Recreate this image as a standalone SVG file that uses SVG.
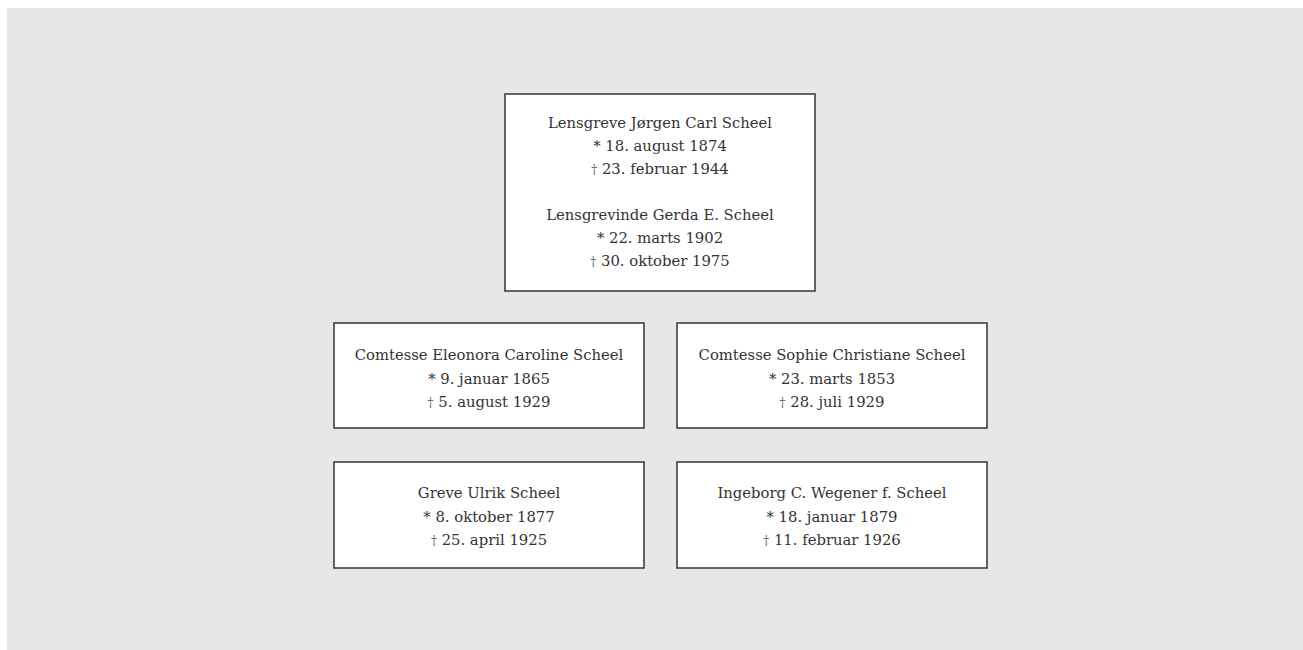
<svg xmlns="http://www.w3.org/2000/svg" width="1303" height="650" viewBox="0 0 1303 650">
<style>
.bg{fill:#e6e7e8}
.box{fill:#fff;stroke:#333;stroke-width:1.5}
text{font-family:"DejaVu Serif","Liberation Serif",serif;font-size:14.8px;fill:#333;text-anchor:middle}
.d{font-size:12px;fill:#666}
</style>
<rect class="bg" x="7" y="8" width="1296" height="642"/>
<g id="connectors"></g>
<g id="node-jorgen-gerda">
<rect class="box" x="505" y="94" width="310" height="197"/>
<text x="660" y="128">Lensgreve Jørgen Carl Scheel</text>
<text x="660" y="151">* 18. august 1874</text>
<text x="660" y="174"><tspan class="d">†</tspan> 23. februar 1944</text>
<text x="660" y="220">Lensgrevinde Gerda E. Scheel</text>
<text x="660" y="243">* 22. marts 1902</text>
<text x="660" y="266"><tspan class="d">†</tspan> 30. oktober 1975</text>
</g>
<g id="node-eleonora">
<rect class="box" x="334" y="323" width="310" height="105"/>
<text x="489" y="360">Comtesse Eleonora Caroline Scheel</text>
<text x="489" y="384">* 9. januar 1865</text>
<text x="489" y="407"><tspan class="d">†</tspan> 5. august 1929</text>
</g>
<g id="node-sophie">
<rect class="box" x="677" y="323" width="310" height="105"/>
<text x="832" y="360">Comtesse Sophie Christiane Scheel</text>
<text x="832" y="384">* 23. marts 1853</text>
<text x="832" y="407"><tspan class="d">†</tspan> 28. juli 1929</text>
</g>
<g id="node-ulrik">
<rect class="box" x="334" y="462" width="310" height="106"/>
<text x="489" y="498">Greve Ulrik Scheel</text>
<text x="489" y="522">* 8. oktober 1877</text>
<text x="489" y="545"><tspan class="d">†</tspan> 25. april 1925</text>
</g>
<g id="node-ingeborg">
<rect class="box" x="677" y="462" width="310" height="106"/>
<text x="832" y="498">Ingeborg C. Wegener f. Scheel</text>
<text x="832" y="522">* 18. januar 1879</text>
<text x="832" y="545"><tspan class="d">†</tspan> 11. februar 1926</text>
</g>
</svg>
